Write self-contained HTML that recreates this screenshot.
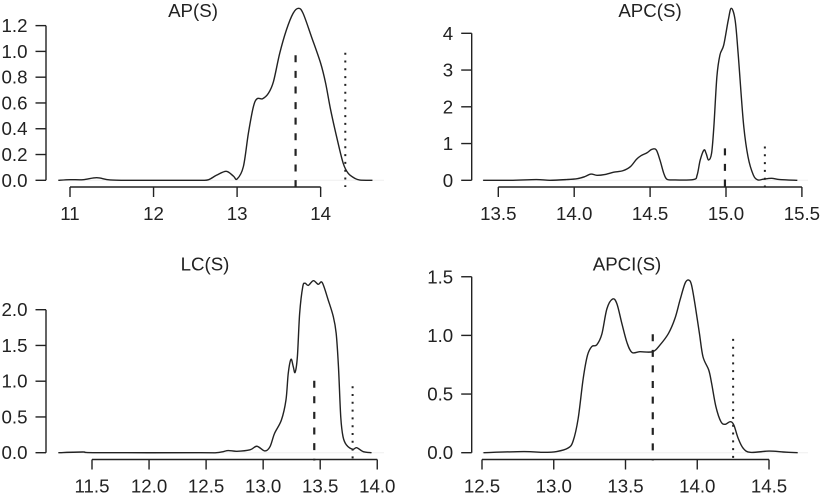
<!DOCTYPE html>
<html>
<head>
<meta charset="utf-8">
<title>Density panels</title>
<style>
html,body{margin:0;padding:0;background:#fff;}
svg{display:block;}
text{font-family:"Liberation Sans",Arial,sans-serif;font-size:18.7px;fill:#222;}
</style>
</head>
<body>
<svg id="chart" width="820" height="498" viewBox="0 0 820 498" xmlns="http://www.w3.org/2000/svg"></svg>
<script>
const apX = [10.86,11.0,11.16,11.32,11.48,11.76,12.4,12.58,12.66,12.755,12.87,12.955,13.0,13.075,13.135,13.195,13.24,13.305,13.375,13.435,13.51,13.59,13.67,13.735,13.79,13.89,14.0,14.06,14.12,14.2,14.27,14.33,14.41,14.47,14.62];
const apY = [0,.005,.005,.02,.003,0,0,0,.005,.04,.07,.033,.01,.106,.365,.571,.633,.633,.675,.765,.985,1.166,1.295,1.334,1.295,1.114,.908,.752,.545,.313,.132,.054,.015,.002,0];
const apXTicks = ["11","12","13","14"];
const apYTicks = ["0.0","0.2","0.4","0.6","0.8","1.0","1.2"];
const apRefs = [13.70,0.97,14.295,0.99];

const apcX = [13.40,13.58,13.75,13.84,13.95,14.02,14.07,14.11,14.15,14.2,14.26,14.32,14.37,14.41,14.44,14.48,14.51,14.54,14.565,14.59,14.61,14.65,14.785,14.81,14.83,14.855,14.87,14.885,14.905,14.92,14.94,14.96,14.985,15.015,15.035,15.06,15.08,15.115,15.145,15.18,15.21,15.245,15.30,15.355,15.47];
const apcY = [0,0,.02,0,.02,.045,.1,.17,.135,.155,.22,.26,.37,.57,.67,.75,.84,.83,.55,.19,.03,.01,.02,.145,.55,.825,.72,.55,.735,1.46,2.82,3.41,3.68,4.36,4.68,4.36,3.45,1.55,.64,.145,.01,.03,.055,.02,0];
const apcXTicks = ["13.5","14.0","14.5","15.0","15.5"];
const apcYTicks = ["0","1","2","3","4"];
const apcRefs = [14.993,0.87,15.256,0.92];

const lcX = [11.205,11.42,11.54,12.45,12.59,12.65,12.695,12.77,12.885,12.945,13.015,13.06,13.10,13.16,13.20,13.22,13.244,13.264,13.28,13.30,13.32,13.347,13.367,13.396,13.44,13.483,13.518,13.57,13.615,13.64,13.66,13.68,13.70,13.73,13.785,13.82,13.878,13.95];
const lcY = [0,.01,0,0,0,.015,.03,.02,.04,.09,.024,.084,.27,.457,.737,1.11,1.306,1.203,1.124,1.343,1.95,2.32,2.37,2.34,2.406,2.355,2.378,2.136,1.902,1.67,1.203,.503,.224,.108,.048,.07,.014,0];
const lcXTicks = ["11.5","12.0","12.5","13.0","13.5","14.0"];
const lcYTicks = ["0.0","0.5","1.0","1.5","2.0"];
const lcRefs = [13.448,1.007,13.784,0.93];

const apciX = [12.51,12.79,12.93,13.02,13.10,13.135,13.17,13.205,13.235,13.265,13.30,13.335,13.37,13.41,13.44,13.475,13.51,13.545,13.60,13.69,13.74,13.80,13.845,13.88,13.915,13.94,13.96,13.985,14.015,14.04,14.08,14.10,14.13,14.165,14.195,14.23,14.255,14.285,14.32,14.37,14.5,14.6,14.7];
const apciY = [0,.01,.003,.01,.04,.10,.29,.63,.83,.905,.92,1.01,1.225,1.31,1.27,1.10,.94,.855,.861,.861,.918,1.018,1.146,1.302,1.444,1.472,1.43,1.259,1.018,.818,.705,.592,.392,.264,.242,.264,.236,.123,.038,.003,.014,.006,0];
const apciXTicks = ["12.5","13.0","13.5","14.0","14.5"];
const apciYTicks = ["0.0","0.5","1.0","1.5"];
const apciRefs = [13.69,1.01,14.25,0.97];

const NS = "http://www.w3.org/2000/svg";
const svg = document.getElementById("chart");

function node(tag, attrs, parent) {
  const el = document.createElementNS(NS, tag);
  for (const k in attrs) el.setAttribute(k, attrs[k]);
  parent.appendChild(el);
  return el;
}

function smoothPath(pts) {
  let d = "M" + pts[0][0].toFixed(2) + " " + pts[0][1].toFixed(2);
  for (let i = 0; i < pts.length - 1; i++) {
    const p0 = pts[Math.max(i - 1, 0)], p1 = pts[i], p2 = pts[i + 1], p3 = pts[Math.min(i + 2, pts.length - 1)];
    const c1x = p1[0] + (p2[0] - p0[0]) / 6, c1y = p1[1] + (p2[1] - p0[1]) / 6;
    const c2x = p2[0] - (p3[0] - p1[0]) / 6, c2y = p2[1] - (p3[1] - p1[1]) / 6;
    d += "C" + c1x.toFixed(2) + " " + c1y.toFixed(2) + " " + c2x.toFixed(2) + " " + c2y.toFixed(2) + " " + p2[0].toFixed(2) + " " + p2[1].toFixed(2);
  }
  return d;
}

function drawPanel(cfg) {
  const g = node("g", {}, svg);
  
  

  const sx = v => cfg.x0 + (v - cfg.xd0) * cfg.xs;
  const sy = v => cfg.y0 - v * cfg.ys;
  const stroke = "#222";

  const zero = node("line", {x1: cfg.zeroL, x2: cfg.zeroR, y1: sy(0), y2: sy(0), stroke: "#efefef", "stroke-width": 1}, g);
  
  

  const title = node("text", {x: cfg.titleX, y: cfg.titleY, "text-anchor": "middle"}, g);
  title.textContent = cfg.title;
  
  

  const xNums = cfg.xTicks.map(Number);
  const xAxis = node("line", {x1: sx(xNums[0]), x2: sx(xNums[xNums.length - 1]), y1: cfg.axisY, y2: cfg.axisY, stroke: stroke, "stroke-width": 1.4}, g);
  
  
  cfg.xTicks.forEach(lbl => {
    const v = Number(lbl);
    const t = node("line", {x1: sx(v), x2: sx(v), y1: cfg.axisY, y2: cfg.axisY + 10, stroke: stroke, "stroke-width": 1.4}, g);
    
    
    const tx = node("text", {x: sx(v), y: cfg.axisY + 33, "text-anchor": "middle"}, g);
    tx.textContent = lbl;
    
    
  });

  const yNums = cfg.yTicks.map(Number);
  const yAxis = node("line", {x1: cfg.axisX, x2: cfg.axisX, y1: sy(yNums[0]), y2: sy(yNums[yNums.length - 1]), stroke: stroke, "stroke-width": 1.4}, g);
  
  
  cfg.yTicks.forEach(lbl => {
    const v = Number(lbl);
    const t = node("line", {x1: cfg.axisX - 10.5, x2: cfg.axisX, y1: sy(v), y2: sy(v), stroke: stroke, "stroke-width": 1.4}, g);
    
    
    const tx = node("text", {x: cfg.axisX - 18.5, y: sy(v) + 6.5, "text-anchor": "end"}, g);
    tx.textContent = lbl;
    
    
  });

  const pts = cfg.xs_data.map((v, i) => [sx(v), sy(cfg.ys_data[i])]);
  const curve = node("path", {d: smoothPath(pts), fill: "none", stroke: stroke, "stroke-width": 1.4, "stroke-linejoin": "round"}, g);
  
  

  const dash = node("line", {x1: sx(cfg.refs[0]), x2: sx(cfg.refs[0]), y1: sy(cfg.refs[1]), y2: cfg.axisY + 1, stroke: stroke, "stroke-width": 2.2, "stroke-dasharray": "7 8.6"}, g);
  
  

  const dot = node("line", {x1: sx(cfg.refs[2]), x2: sx(cfg.refs[2]), y1: sy(cfg.refs[3]), y2: cfg.axisY, stroke: stroke, "stroke-width": 2, "stroke-dasharray": "2 5.8"}, g);
  
  
}

drawPanel({slug: "ap", title: "AP(S)", titleX: 193, titleY: 17, xTicks: apXTicks, yTicks: apYTicks, xs_data: apX, ys_data: apY, refs: apRefs,
  xd0: 11, x0: 70, xs: 83.55, y0: 180.3, ys: 128.9, axisX: 46, axisY: 187, zeroL: 58, zeroR: 384});
drawPanel({slug: "apc", title: "APC(S)", titleX: 650, titleY: 17, xTicks: apcXTicks, yTicks: apcYTicks, xs_data: apcX, ys_data: apcY, refs: apcRefs,
  xd0: 13.5, x0: 498.3, xs: 151.8, y0: 180.3, ys: 36.75, axisX: 471.7, axisY: 187, zeroL: 482, zeroR: 808});
drawPanel({slug: "lc", title: "LC(S)", titleX: 205, titleY: 270.7, xTicks: lcXTicks, yTicks: lcYTicks, xs_data: lcX, ys_data: lcY, refs: lcRefs,
  xd0: 11.5, x0: 92, xs: 114.1, y0: 452.7, ys: 71.5, axisX: 46, axisY: 459.5, zeroL: 58, zeroR: 384});
drawPanel({slug: "apci", title: "APCI(S)", titleX: 627, titleY: 270.7, xTicks: apciXTicks, yTicks: apciYTicks, xs_data: apciX, ys_data: apciY, refs: apciRefs,
  xd0: 12.5, x0: 482, xs: 143.5, y0: 452.7, ys: 117.3, axisX: 471.7, axisY: 459.5, zeroL: 482, zeroR: 808});
</script>
</body>
</html>
